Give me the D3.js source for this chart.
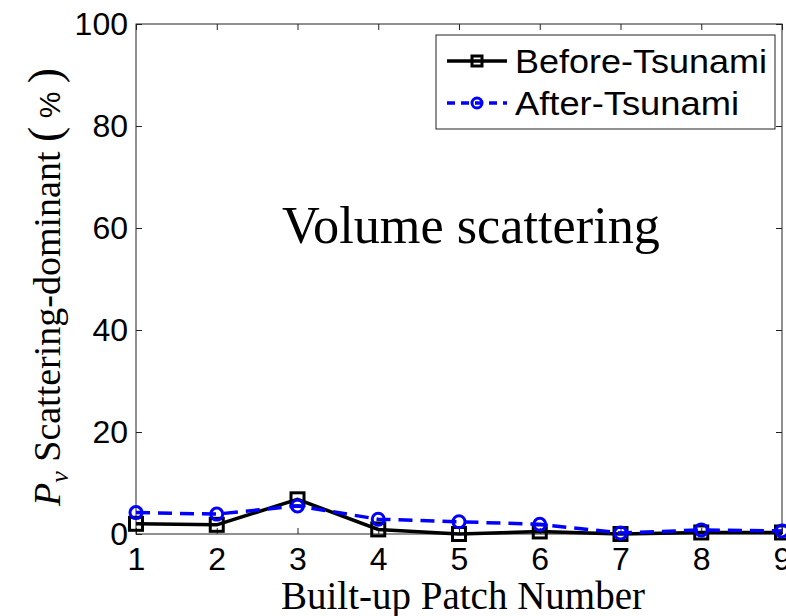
<!DOCTYPE html>
<html>
<head>
<meta charset="utf-8">
<script src="https://cdn.jsdelivr.net/npm/d3@7"></script>
<style>
  body { margin: 0; background: #fff; }
  svg { display: block; }
</style>
</head>
<body>
<svg id="chart" width="786" height="616"></svg>
<script>
// data
const patches = [1, 2, 3, 4, 5, 6, 7, 8, 9];
const before = [2.0, 1.8, 6.8, 0.9, 0.0, 0.5, 0.0, 0.3, 0.3];
const after = [4.2, 3.9, 5.5, 2.9, 2.4, 1.9, 0.2, 0.8, 0.6];
const yTicks = [0, 20, 40, 60, 80, 100];
const seriesNames = ['Before-Tsunami', 'After-Tsunami'];

const serif = 'Liberation Serif, Times New Roman, serif';
const sans = 'Liberation Sans, Arial, sans-serif';

const svg = d3.select('#chart');
const plot = { left: 136, right: 782, top: 24, bottom: 534 };

const x = d3.scaleLinear().domain([1, 9]).range([plot.left, plot.right]);
const y = d3.scaleLinear().domain([0, 100]).range([plot.bottom, plot.top]);

// axes with inward ticks, mirrored top/right
function styleAxis(g) {
    g.select('.domain').remove();
    g.selectAll('.tick line').attr('stroke', '#222').attr('stroke-width', 1);
    g.selectAll('.tick text').attr('font-family', sans).attr('font-size', 32).attr('fill', '#000');
}

svg.append('g')
    .attr('transform', `translate(0,${plot.bottom})`)
    .call(d3.axisBottom(x).tickValues(patches).tickSize(-6).tickPadding(13).tickFormat(d3.format('d')))
    .call(styleAxis);
svg.append('g')
    .attr('transform', `translate(0,${plot.top})`)
    .call(d3.axisTop(x).tickValues(patches).tickSize(-6).tickFormat(''))
    .call(styleAxis);
svg.append('g')
    .attr('transform', `translate(${plot.left},0)`)
    .call(d3.axisLeft(y).tickValues(yTicks).tickSize(-6).tickPadding(8))
    .call(styleAxis);
svg.append('g')
    .attr('transform', `translate(${plot.right},0)`)
    .call(d3.axisRight(y).tickValues(yTicks).tickSize(-6).tickFormat(''))
    .call(styleAxis);

svg.append('rect')
    .attr('x', plot.left).attr('y', plot.top)
    .attr('width', plot.right - plot.left).attr('height', plot.bottom - plot.top)
    .attr('fill', 'none').attr('stroke', '#222').attr('stroke-width', 1);

const line = d3.line().x((d, i) => x(patches[i])).y(d => y(d));

// before series
svg.append('path').datum(before)
    .attr('d', line).attr('fill', 'none')
    .attr('stroke', '#000').attr('stroke-width', 3.5);
svg.append('g').selectAll('rect').data(before).join('rect')
    .attr('x', (d, i) => x(patches[i]) - 6.5).attr('y', d => y(d) - 6.5)
    .attr('width', 13).attr('height', 13)
    .attr('fill', 'none').attr('stroke', '#000').attr('stroke-width', 3);

// after series
svg.append('path').datum(after)
    .attr('d', line).attr('fill', 'none')
    .attr('stroke', '#0000ff').attr('stroke-width', 3.5)
    .attr('stroke-dasharray', '14,8');
svg.append('g').selectAll('circle').data(after).join('circle')
    .attr('cx', (d, i) => x(patches[i])).attr('cy', d => y(d))
    .attr('r', 6)
    .attr('fill', 'none').attr('stroke', '#0000ff').attr('stroke-width', 3);

// annotation
svg.append('text')
    .attr('x', 282).attr('y', 243)
    .attr('font-family', serif).attr('font-size', 53)
    .attr('textLength', 378).attr('lengthAdjust', 'spacingAndGlyphs')
    .text('Volume scattering');

// legend
const lg = svg.append('g');
lg.append('rect')
    .attr('x', 436).attr('y', 35).attr('width', 339).attr('height', 94)
    .attr('fill', '#fff').attr('stroke', '#222').attr('stroke-width', 1);
const rows = [61, 103];
lg.append('line').attr('x1', 447).attr('x2', 507).attr('y1', rows[0]).attr('y2', rows[0])
    .attr('stroke', '#000').attr('stroke-width', 3.5);
lg.append('rect').attr('x', 472).attr('y', rows[0] - 5).attr('width', 10).attr('height', 10)
    .attr('fill', 'none').attr('stroke', '#000').attr('stroke-width', 3);
lg.append('line').attr('x1', 447).attr('x2', 507).attr('y1', rows[1]).attr('y2', rows[1])
    .attr('stroke', '#0000ff').attr('stroke-width', 3.5).attr('stroke-dasharray', '8,6');
lg.append('circle').attr('cx', 477).attr('cy', rows[1]).attr('r', 5)
    .attr('fill', 'none').attr('stroke', '#0000ff').attr('stroke-width', 3);
lg.selectAll('text.lab').data(seriesNames).join('text')
    .attr('class', 'lab')
    .attr('x', 515).attr('y', (d, i) => rows[i] + 12)
    .attr('font-family', sans).attr('font-size', 34)
    .attr('textLength', (d, i) => i === 0 ? 252 : 224).attr('lengthAdjust', 'spacingAndGlyphs')
    .text(d => d);

// x label
svg.append('text')
    .attr('x', 463).attr('y', 609)
    .attr('text-anchor', 'middle')
    .attr('font-family', serif).attr('font-size', 39)
    .text('Built-up Patch Number');

// y label
const yl = svg.append('text')
    .attr('transform', 'translate(60,287) rotate(-90)')
    .attr('text-anchor', 'middle')
    .attr('font-family', serif).attr('font-size', 38);
yl.append('tspan').attr('font-style', 'italic').text('P');
yl.append('tspan').attr('font-style', 'italic').attr('font-size', 26).attr('dy', 8).text('ν');
yl.append('tspan').attr('dy', -8).text(' Scattering-dominant ');
yl.append('tspan').attr('font-size', 46).text('(');
yl.append('tspan').attr('font-family', sans).attr('font-size', 30).text(' % ');
yl.append('tspan').attr('font-size', 46).text(')');
</script>
</body>
</html>
